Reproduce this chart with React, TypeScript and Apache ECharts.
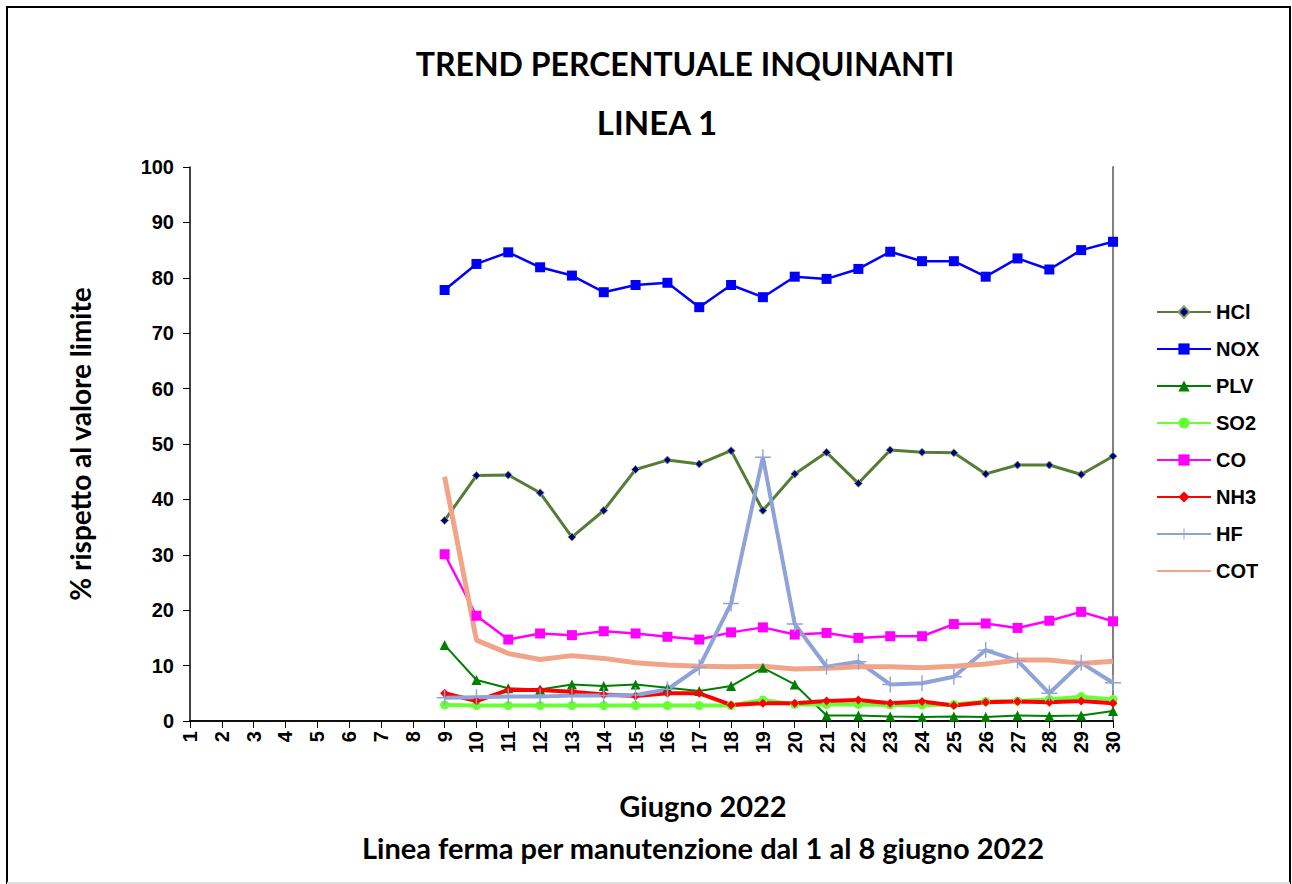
import React, { useEffect, useRef } from "react";
import * as echarts from "echarts";

const days = ["1","2","3","4","5","6","7","8","9","10","11","12","13","14","15","16","17","18","19","20","21","22","23","24","25","26","27","28","29","30"];
// line stopped 1-8 June: no values
const stopped = [null, null, null, null, null, null, null, null];
// values for days 9..30
const hcl = [36.2, 44.3, 44.4, 41.2, 33.2, 38.0, 45.4, 47.1, 46.4, 48.8, 38.0, 44.6, 48.5, 42.9, 48.9, 48.5, 48.4, 44.6, 46.2, 46.2, 44.5, 47.8];
const nox = [77.8, 82.5, 84.6, 81.9, 80.4, 77.4, 78.7, 79.1, 74.7, 78.7, 76.5, 80.2, 79.8, 81.6, 84.7, 83.0, 83.0, 80.2, 83.5, 81.5, 85.0, 86.5];
const plv = [13.7, 7.4, 5.9, 5.7, 6.6, 6.3, 6.6, 6.0, 5.4, 6.3, 9.6, 6.6, 1.0, 1.0, 0.8, 0.7, 0.8, 0.7, 1.0, 0.9, 1.0, 1.8];
const so2 = [2.9, 2.8, 2.8, 2.8, 2.8, 2.8, 2.8, 2.8, 2.8, 2.8, 3.8, 3.0, 3.0, 3.0, 2.9, 2.9, 3.0, 3.5, 3.6, 3.9, 4.4, 3.9];
const co = [30.1, 19.0, 14.7, 15.8, 15.5, 16.2, 15.8, 15.2, 14.7, 16.0, 16.9, 15.6, 15.9, 15.0, 15.3, 15.3, 17.5, 17.6, 16.8, 18.1, 19.7, 18.0];
const nh3 = [5.0, 3.6, 5.6, 5.6, 5.3, 4.8, 4.5, 5.0, 5.0, 2.9, 3.2, 3.2, 3.6, 3.8, 3.2, 3.5, 2.8, 3.4, 3.5, 3.4, 3.6, 3.2];
const hf = [4.2, 4.3, 4.4, 4.4, 4.6, 4.6, 4.7, 5.7, 9.7, 21.2, 47.6, 17.5, 9.8, 10.7, 6.6, 6.8, 8.0, 12.8, 10.9, 5.0, 10.5, 6.9];
const cot = [44.1, 14.6, 12.2, 11.1, 11.8, 11.3, 10.5, 10.1, 9.9, 9.8, 9.9, 9.4, 9.5, 9.8, 9.8, 9.6, 9.9, 10.3, 11.0, 11.0, 10.4, 10.8];
const yTicks = { min: 0, max: 100, interval: 10 };

const plusPath = "path://M0,7.3H16V8.7H0Z M7.3,0H8.7V16H7.3Z";
const tickFont = { fontFamily: "'Liberation Sans', Arial, sans-serif", fontWeight: "bold" as const, fontSize: 20, color: "#000" };
const titleFont = "Lato, 'Open Sans', sans-serif";

export default function App() {
  const ref = useRef<HTMLDivElement>(null);
  useEffect(() => {
    if (!ref.current) return;
    const chart = echarts.init(ref.current, undefined, { renderer: "svg" });
    const mk = (name: string, vals: number[], color: string, width: number, symbol: string, size: number, extra: any = {}) => ({
      name,
      type: "line",
      data: [...stopped, ...vals],
      symbol,
      symbolSize: size,
      showSymbol: symbol !== "none",
      lineStyle: { color, width },
      itemStyle: { color, ...(extra.itemStyle || {}) },
      emphasis: { disabled: true },
    });
    chart.setOption({
      animation: false,
      backgroundColor: "#fff",
      graphic: [
        { type: "polyline", shape: { points: [[7, 884], [7, 7], [1290, 7], [1290, 884]] }, style: { stroke: "#000", lineWidth: 2, fill: "none" } },
        { type: "line", shape: { x1: 7, y1: 883, x2: 1290, y2: 883 }, style: { stroke: "#ddd", lineWidth: 2 } },
        { type: "text", x: 685, y: 63, style: { text: "TREND PERCENTUALE INQUINANTI", fontFamily: titleFont, fontWeight: "bold", fontSize: 32, fill: "#000", textAlign: "center", textVerticalAlign: "middle" } },
        { type: "text", x: 657, y: 122, style: { text: "LINEA 1", fontFamily: titleFont, fontWeight: "bold", fontSize: 33, fill: "#000", textAlign: "center", textVerticalAlign: "middle" } },
        { type: "text", x: 703, y: 805, style: { text: "Giugno 2022", fontFamily: titleFont, fontWeight: "bold", fontSize: 29, fill: "#000", textAlign: "center", textVerticalAlign: "middle" } },
        { type: "text", x: 703, y: 847, style: { text: "Linea ferma per manutenzione dal 1 al 8 giugno 2022", fontFamily: titleFont, fontWeight: "bold", fontSize: 29, fill: "#000", textAlign: "center", textVerticalAlign: "middle" } },
      ],
      grid: { left: 190, right: 179, top: 167, bottom: 163, containLabel: false },
      legend: {
        orient: "vertical",
        left: 1156,
        top: 302,
        padding: 0,
        itemWidth: 54,
        itemHeight: 14,
        itemGap: 17,
        textStyle: { ...tickFont },
        data: ["HCl", "NOX", "PLV", "SO2", "CO", "NH3", "HF", { name: "COT", itemStyle: { color: "rgba(0,0,0,0)", borderWidth: 0 } }],
      },
      xAxis: [
        {
          type: "category",
          data: days,
          boundaryGap: false,
          axisLine: { lineStyle: { color: "#000", width: 1.5 } },
          axisTick: { length: 7, lineStyle: { color: "#000" } },
          axisLabel: { ...tickFont, rotate: 90, margin: 10, interval: 0 },
          splitLine: { show: false },
        },
        {
          type: "category",
          data: days,
          boundaryGap: false,
          position: "top",
          axisLine: { lineStyle: { color: "#000", width: 1.5 } },
          axisTick: { show: false },
          axisLabel: { show: false },
        },
      ],
      yAxis: [
        {
          type: "value",
          ...yTicks,
          name: "% rispetto al valore limite",
          nameLocation: "middle",
          nameRotate: 90,
          nameGap: 96,
          nameTextStyle: { fontFamily: titleFont, fontWeight: "bold", fontSize: 28, color: "#000" },
          axisLine: { show: true, lineStyle: { color: "#000", width: 1.5 } },
          axisTick: { show: true, length: 7, lineStyle: { color: "#000" } },
          axisLabel: { ...tickFont, margin: 16 },
          splitLine: { show: false },
        },
        {
          type: "value",
          ...yTicks,
          position: "right",
          axisLine: { show: true, lineStyle: { color: "#808080", width: 2 } },
          axisTick: { show: false },
          axisLabel: { show: false },
          splitLine: { show: false },
        },
      ],
      series: [
        mk("HCl", hcl, "#567D35", 3, "diamond", 8, { itemStyle: { color: "#000080", borderColor: "#7FA060", borderWidth: 1 } }),
        mk("NOX", nox, "#0000FF", 2.5, "rect", 10),
        mk("PLV", plv, "#008000", 2, "triangle", 10),
        mk("SO2", so2, "#66FF33", 4, "circle", 9),
        mk("CO", co, "#FF00FF", 2.5, "rect", 10),
        mk("NH3", nh3, "#FF0000", 4, "diamond", 9),
        mk("HF", hf, "#8EA3D8", 4, plusPath, 16),
        mk("COT", cot, "#F2A488", 5, "none", 0),
      ],
    });
    return () => chart.dispose();
  }, []);
  return <div ref={ref} style={{ position: "absolute", left: 0, top: 0, width: 1292, height: 884 }} />;
}
